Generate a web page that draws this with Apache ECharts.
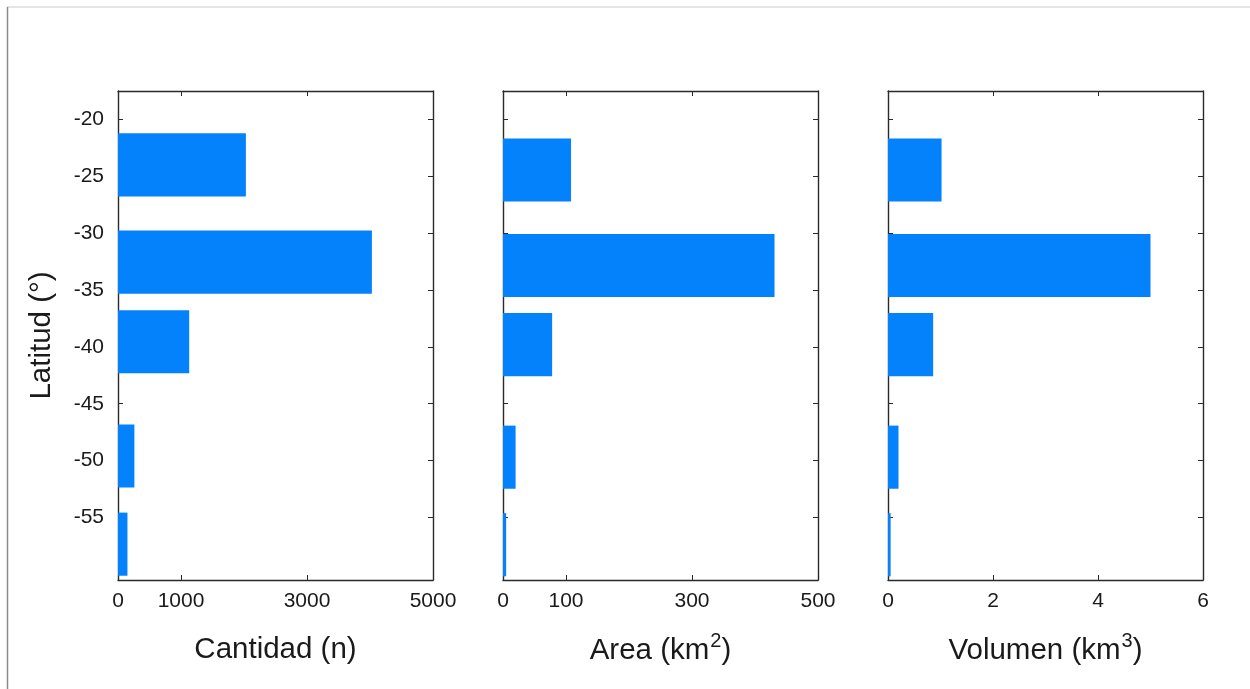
<!DOCTYPE html>
<html>
<head>
<meta charset="utf-8">
<script src="https://cdn.jsdelivr.net/npm/echarts@6/dist/echarts.min.js"></script>
<style>
html,body{margin:0;padding:0;background:#fff;}
#chart{width:1250px;height:689px;}
</style>
</head>
<body>
<div id="chart"></div>
<script>
// ---- data ----
const latTicks = [-55, -50, -45, -40, -35, -30, -25, -20];
const latCantidad = [-24.0, -32.55, -39.55, -49.6, -57.35];
const latAreaVol = [-24.45, -32.85, -39.8, -49.7, -57.4];
const cantidad = [2030, 4030, 1130, 260, 150];
const area = [108, 431, 78, 20, 5];
const volumen = [1.02, 5.0, 0.86, 0.2, 0.05];
const cantidadTicks = [0, 1000, 3000, 5000];
const areaTicks = [0, 100, 300, 500];
const volumenTicks = [0, 2, 4, 6];

const FONT = 'Liberation Sans, Arial, sans-serif';
const TXT = '#1a1a1a';
const FRAME = '#2a2a2a';
const BAR = '#0382fc';
const BAR_H = 5.55; // bar thickness in latitude units

const panels = [
  {left: 118, vals: cantidad, lats: latCantidad, ticks: cantidadTicks, max: 5000, name: 'Cantidad (n)', gap: 55},
  {left: 503, vals: area, lats: latAreaVol, ticks: areaTicks, max: 500, name: 'Area (km{sup|2})', gap: 51},
  {left: 888, vals: volumen, lats: latAreaVol, ticks: volumenTicks, max: 6, name: 'Volumen (km{sup|3})', gap: 51}
];

const plain = v => String(v);
const grid = [], xAxis = [], yAxis = [], series = [];
panels.forEach((p, i) => {
  grid.push({left: p.left, top: 91, width: 315, height: 489, containLabel: false});
  const inner = p.ticks.slice(1, -1);
  // bottom x
  xAxis.push({
    type: 'value', gridIndex: i, min: 0, max: p.max, position: 'bottom',
    axisLine: {show: true, onZero: false, lineStyle: {color: FRAME, width: 1.4}},
    axisTick: {show: true, inside: true, length: 5, customValues: inner, lineStyle: {color: FRAME}},
    axisLabel: {show: true, customValues: p.ticks, formatter: plain, color: TXT, fontSize: 21, fontFamily: FONT, margin: 11},
    splitLine: {show: false},
    name: p.name, nameLocation: 'middle', nameGap: p.gap,
    nameTextStyle: {color: TXT, fontSize: 29.5, fontFamily: FONT,
      rich: {sup: {fontSize: 20, fontFamily: FONT, color: TXT, verticalAlign: 'bottom', padding: [0, 0, 20, 1]}}}
  });
  // top x (mirror)
  xAxis.push({
    type: 'value', gridIndex: i, min: 0, max: p.max, position: 'top',
    axisLine: {show: true, onZero: false, lineStyle: {color: FRAME, width: 1.4}},
    axisTick: {show: true, inside: true, length: 5, customValues: inner, lineStyle: {color: FRAME}},
    axisLabel: {show: false}, splitLine: {show: false}
  });
  // left y
  yAxis.push({
    type: 'value', gridIndex: i, min: -60.5, max: -17.5, position: 'left',
    axisLine: {show: true, onZero: false, lineStyle: {color: FRAME, width: 1.4}},
    axisTick: {show: true, inside: true, length: 5, customValues: latTicks, lineStyle: {color: FRAME}},
    axisLabel: {show: i === 0, customValues: latTicks, formatter: plain, color: TXT, fontSize: 21, fontFamily: FONT, margin: 14},
    splitLine: {show: false},
    name: i === 0 ? 'Latitud (°)' : '', nameLocation: 'middle', nameRotate: 90, nameGap: 61,
    nameTextStyle: {color: TXT, fontSize: 29.5, fontFamily: FONT}
  });
  // right y (mirror)
  yAxis.push({
    type: 'value', gridIndex: i, min: -60.5, max: -17.5, position: 'right',
    axisLine: {show: true, onZero: false, lineStyle: {color: FRAME, width: 1.4}},
    axisTick: {show: true, inside: true, length: 5, customValues: latTicks, lineStyle: {color: FRAME}},
    axisLabel: {show: false}, splitLine: {show: false}
  });
  series.push({
    type: 'custom', xAxisIndex: i * 2, yAxisIndex: i * 2, clip: true,
    encode: {x: 0, y: 1},
    data: p.vals.map((v, k) => [v, p.lats[k]]),
    renderItem: function (params, api) {
      const v = api.value(0), lat = api.value(1);
      const a = api.coord([0, lat]);
      const b = api.coord([v, lat]);
      const h = api.size([0, BAR_H])[1];
      return {
        type: 'rect',
        shape: {x: a[0], y: a[1] - h / 2, width: b[0] - a[0], height: h},
        style: {fill: BAR}
      };
    }
  });
});

const chart = echarts.init(document.getElementById('chart'), null, {renderer: 'canvas'});
chart.setOption({
  backgroundColor: '#ffffff',
  animation: false,
  grid, xAxis, yAxis, series,
  graphic: [
    {type: 'line', shape: {x1: 7, y1: 7, x2: 1250, y2: 7}, style: {stroke: '#dcdcdc', lineWidth: 1.5}, silent: true},
    {type: 'line', shape: {x1: 7.5, y1: 7, x2: 7.5, y2: 689}, style: {stroke: '#8a8a8a', lineWidth: 1.5}, silent: true}
  ]
});
</script>
</body>
</html>
